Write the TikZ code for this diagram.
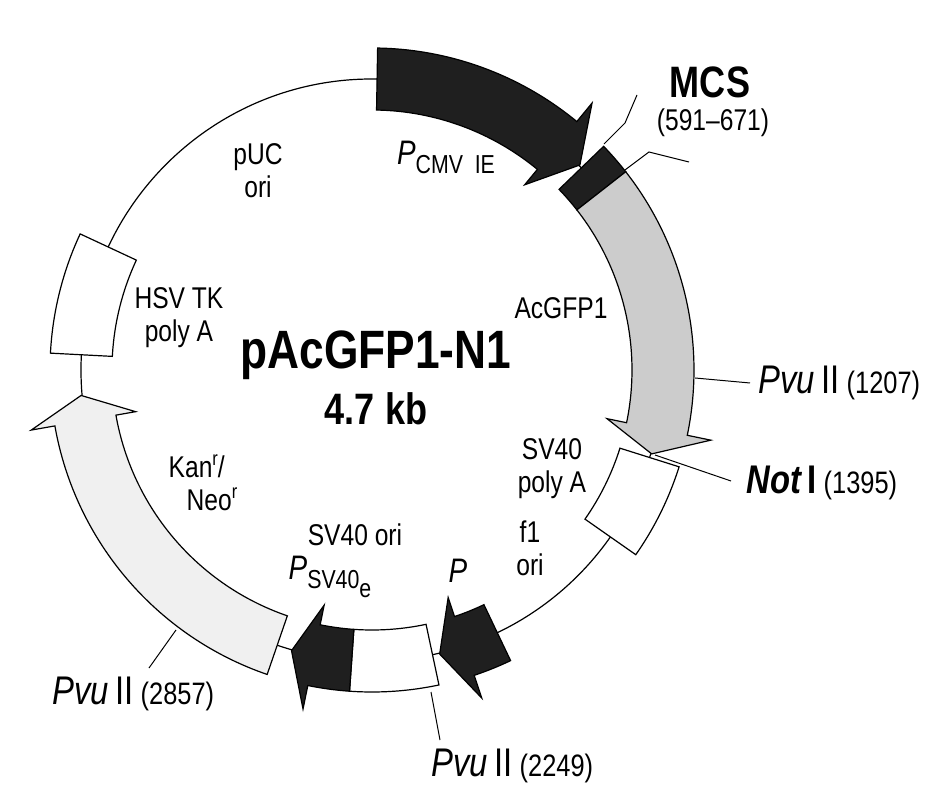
\documentclass[tikz,border=0pt]{standalone}
\usepackage{fontspec}
\setmainfont{Liberation Sans}[FakeStretch=0.82]
\usepackage{tikz}
\usetikzlibrary{positioning}

% band of the map: start angle, end angle, fill
\newcommand\mapbox[3]{%
  \filldraw[fill=#3] (-#1:322) arc[start angle=-#1,end angle=-#2,radius=322]
    -- (-#2:260) arc[start angle=-#2,end angle=-#1,radius=260] -- cycle;}
% band with arrow head: start angle, head base, tip, fill
\newcommand\maparrow[4]{%
  \filldraw[fill=#4] (-#1:322) arc[start angle=-#1,end angle=-#2,radius=322]
    -- (-#2:346) -- (-#3:292) -- (-#2:240) -- (-#2:260)
    arc[start angle=-#2,end angle=-#1,radius=260] -- cycle;}

\begin{document}
\begin{tikzpicture}[
    x=1pt, y=-1pt, line width=1.2pt, line join=miter,
    lbl/.style={font=\fontsize{30}{33}\selectfont, inner sep=0pt, align=center},
    site/.style={font=\fontsize{40}{42}\selectfont, inner sep=0pt, anchor=west}
  ]
  \useasboundingbox (-372,-370) rectangle (575,432);

  % Backbone
  \draw (0,0) circle[radius=291];

  % Features
  \maparrow{89}{50.5}{44.6}{black!88}
  \mapbox{44}{38}{black!88}
  \maparrow{38}{-11.7}{-16.7}{black!20}
  \mapbox{-17.5}{-35}{white}
  \maparrow{-64.5}{-71.5}{-76.6}{black!88}
  \mapbox{-78}{-94}{white}
  \maparrow{-94}{-101.5}{-106}{black!88}
  \maparrow{-109}{-170}{-175}{black!6}
  \mapbox{155}{177}{white}

  % Labels
  \node[lbl] (title) at (4,-15) {\fontsize{54}{56}\selectfont\bfseries pAcGFP1-N1};
  \node[lbl] (size) at (4,39) {\fontsize{44}{46}\selectfont\bfseries 4.7 kb};
  \node[lbl] (mcs) at (338,-288) {\fontsize{44}{46}\selectfont\bfseries MCS};
  \node[lbl, font=\fontsize{30}{32}\selectfont] (mcsr) at (341,-247) {(591--671)};
  \node[lbl] (cmv) at (74,-213) {\fontsize{34}{34}\selectfont\itshape P\raisebox{-9pt}{\fontsize{26}{26}\selectfont\upshape CMV\ \ IE}};
  \node[lbl] (puc) at (-114,-199) {pUC\\ori};
  \node[lbl] (hsv) at (-193,-52) {HSV TK\\poly A};
  \node[lbl] (gfp) at (189,-62) {AcGFP1};
  \node[lbl] (pa) at (180,99) {SV40\\poly A};
  \node[lbl] (f1) at (158,178) {f1\\ori};
  \node[lbl, align=left] (kan) at (-169,113) {Kan\raisebox{12pt}{\fontsize{20}{20}\selectfont r}/\\\hspace*{18pt}Neo\raisebox{12pt}{\fontsize{20}{20}\selectfont r}};
  \node[lbl] (sv40) at (-17,165) {SV40 ori};
  \node[lbl] (psv) at (-42,207) {\fontsize{34}{34}\selectfont\itshape P\raisebox{-9pt}{\fontsize{26}{26}\selectfont\upshape SV40\raisebox{-9pt}{e}}};
  \node[lbl] (pf1) at (86,201) {\fontsize{34}{34}\selectfont\itshape P};

  \node[site] (pvuA) at (386,13) {\itshape Pvu\,\upshape II\,{\fontsize{31}{32}\selectfont(1207)}};
  \node[site] (notI) at (374,113) {\bfseries\itshape Not\,\upshape I\,{\mdseries\fontsize{31}{32}\selectfont(1395)}};
  \node[site] (pvuB) at (59,396) {\itshape Pvu\,\upshape II\,{\fontsize{31}{32}\selectfont(2249)}};
  \node[site] (pvuC) at (-320,324) {\itshape Pvu\,\upshape II\,{\fontsize{31}{32}\selectfont(2857)}};

  % Leaders
  \coordinate (mcsA) at (232,-226);
  \coordinate (mcsB) at (253,-200);
  \coordinate (cutA) at (323,8);
  \coordinate (cutN) at (283,85);
  \coordinate (cutB) at (59,322);
  \coordinate (cutC) at (-196,260);
  \draw[line width=1pt] (mcsA) -- (253,-247) -- (265,-275);
  \draw[line width=1pt] (mcsB) -- (277,-218) -- (317,-208);
  \draw[line width=1pt] (cutA) -- ([xshift=-8pt]pvuA.west);
  \draw[line width=1pt] (cutN) -- ([xshift=-15pt,yshift=2pt]notI.west);
  \draw[line width=1pt] (cutB) -- ([xshift=9pt,yshift=26pt]pvuB.west);
  \draw[line width=1pt] (cutC) -- ([xshift=97pt,yshift=26pt]pvuC.west);
\end{tikzpicture}
\end{document}
